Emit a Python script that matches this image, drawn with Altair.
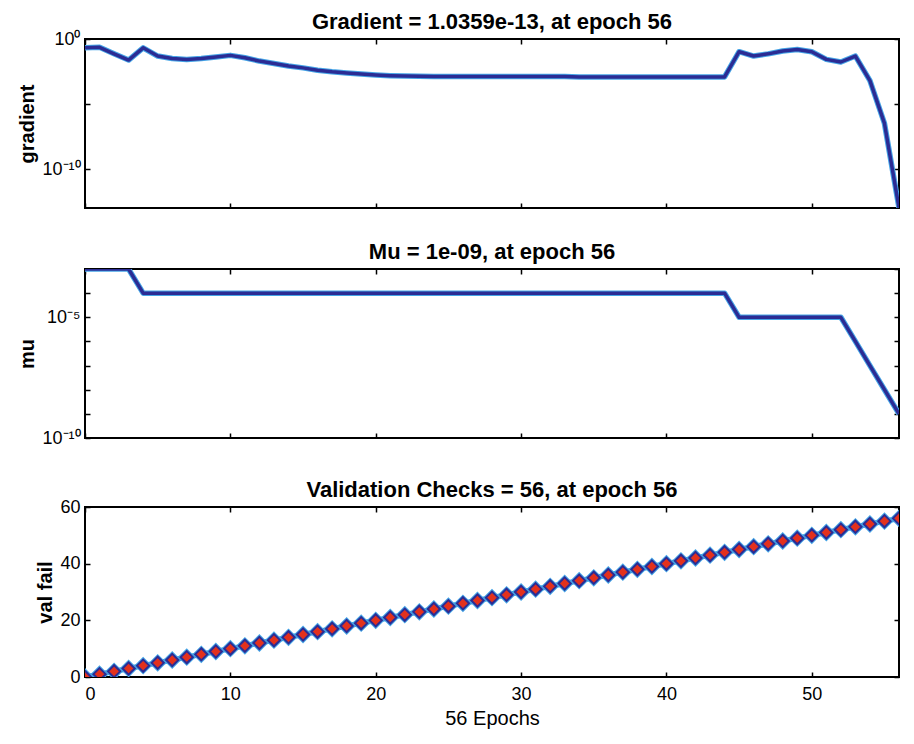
import altair as alt
import pandas as pd

# ---------------- data ----------------
epochs = [0, 1, 2, 3, 4, 5, 6, 7, 8, 9, 10, 11, 12, 13, 14, 15, 16, 17, 18, 19,
          20, 21, 22, 23, 24, 25, 26, 27, 28, 29, 30, 31, 32, 33, 34, 35, 36, 37, 38, 39,
          40, 41, 42, 43, 44, 45, 46, 47, 48, 49, 50, 51, 52, 53, 54, 55, 56]

gradient = [0.21, 0.23, 0.072, 0.024, 0.21, 0.049, 0.032, 0.027, 0.032, 0.041,
            0.055, 0.036, 0.020, 0.013, 0.0085, 0.0060, 0.0040, 0.0030, 0.0024, 0.0020,
            0.0017, 0.0015, 0.0014, 0.00135, 0.0013, 0.0013, 0.0013, 0.0013, 0.0013, 0.0013,
            0.0013, 0.0013, 0.0013, 0.0013, 0.0012, 0.0012, 0.0012, 0.0012, 0.0012, 0.0012,
            0.0012, 0.0012, 0.0012, 0.0012, 0.0012, 0.105, 0.049, 0.072, 0.12, 0.155,
            0.105, 0.027, 0.017, 0.049, 0.00063, 3.2e-7, 1.0359e-13]

mu = [1e-3, 1e-3, 1e-3, 1e-3, 1e-4, 1e-4, 1e-4, 1e-4, 1e-4, 1e-4,
      1e-4, 1e-4, 1e-4, 1e-4, 1e-4, 1e-4, 1e-4, 1e-4, 1e-4, 1e-4,
      1e-4, 1e-4, 1e-4, 1e-4, 1e-4, 1e-4, 1e-4, 1e-4, 1e-4, 1e-4,
      1e-4, 1e-4, 1e-4, 1e-4, 1e-4, 1e-4, 1e-4, 1e-4, 1e-4, 1e-4,
      1e-4, 1e-4, 1e-4, 1e-4, 1e-4, 1e-5, 1e-5, 1e-5, 1e-5, 1e-5,
      1e-5, 1e-5, 1e-5, 1e-6, 1e-7, 1e-8, 1e-9]

val_fail = [0, 1, 2, 3, 4, 5, 6, 7, 8, 9, 10, 11, 12, 13, 14, 15, 16, 17, 18, 19,
            20, 21, 22, 23, 24, 25, 26, 27, 28, 29, 30, 31, 32, 33, 34, 35, 36, 37, 38, 39,
            40, 41, 42, 43, 44, 45, 46, 47, 48, 49, 50, 51, 52, 53, 54, 55, 56]

x_ticks = [0, 10, 20, 30, 40, 50]
grad_ticks = [1e-10, 1e-5, 1]
grad_exps = [-10, -5, 0]
grad_tick_labels = ["10\u207b\u00b9\u2070", "", "10\u2070"]
mu_ticks = [1e-10, 1e-9, 1e-8, 1e-7, 1e-6, 1e-5, 1e-4, 1e-3]
mu_exps = [-10, -9, -8, -7, -6, -5, -4, -3]
mu_tick_labels = ["10\u207b\u00b9\u2070", "", "", "", "", "10\u207b\u2075", "", ""]
val_ticks = [0, 20, 40, 60]

titles = ["Gradient = 1.0359e-13, at epoch 56",
          "Mu = 1e-09, at epoch 56",
          "Validation Checks = 56, at epoch 56"]

df = pd.DataFrame({"epoch": epochs, "gradient": gradient, "mu": mu, "val": val_fail})

# ---------------- style ----------------
FONT = "Liberation Sans"
DARK = "#2b2c94"
LIGHT = "#45a4e6"
RED = "#e3311d"
W, H = 814, 169
TICK = 5

NOEXT = dict(minExtent=0, maxExtent=0)


def log_label_expr(exps, labels):
    expr = "''"
    for e, lab in zip(exps, labels):
        expr = f"(round(log(datum.value)/LN10) == {e} ? '{lab}' : {expr})"
    return expr


xscale = alt.Scale(domain=[0, 56], nice=False, zero=False)


def bottom_axis(show_labels, title=None):
    kw = dict(orient="bottom", values=x_ticks, offset=-TICK, tickSize=TICK, tickWidth=1.5,
              tickColor="black", domain=False, grid=False, labels=show_labels,
              labelFont=FONT, labelFontSize=18, labelColor="black", labelPadding=8,
              titleFont=FONT, titleFontSize=20, titleFontWeight="normal", titleColor="black",
              titlePadding=5, title=title)
    if not show_labels:
        kw.update(NOEXT)
    else:
        kw["minExtent"] = 0
    return alt.Axis(**kw)


top_axis = alt.Axis(orient="top", values=x_ticks, offset=-TICK, tickSize=TICK, tickWidth=1.5,
                    tickColor="black", domain=False, grid=False, labels=False, title=None,
                    **NOEXT)


def left_axis(values, title, label_expr=None):
    kw = dict(orient="left", values=values, offset=-TICK, tickSize=TICK, tickWidth=1.5,
              tickColor="black", domain=False, grid=False, labelFont=FONT, labelFontSize=18,
              labelColor="black", labelPadding=5, labelFlush=False, labelOverlap=False,
              titleFont=FONT, titleFontSize=20, titleFontWeight="bold", titleColor="black",
              titlePadding=4, title=title, minExtent=0)
    if label_expr is not None:
        kw["labelExpr"] = label_expr
    return alt.Axis(**kw)


def right_axis(values):
    return alt.Axis(orient="right", values=values, offset=-TICK, tickSize=TICK, tickWidth=1.5,
                    tickColor="black", domain=False, grid=False, labels=False, title=None,
                    **NOEXT)


def title_layer(text):
    return alt.Chart(pd.DataFrame({"t": [text]})).mark_text(
        font=FONT, fontSize=22, fontWeight="bold", color="black",
        align="center", baseline="alphabetic"
    ).encode(text="t:N", x=alt.value(W / 2), y=alt.value(-10))


def line_panel(field, yscale, laxis, ticks, show_xlabels, xtitle=None):
    halo = alt.Chart(df).mark_line(color=LIGHT, strokeWidth=5.5, strokeJoin="round",
                                   clip=True).encode(
        x=alt.X("epoch:Q", scale=xscale, axis=bottom_axis(show_xlabels, xtitle)),
        y=alt.Y(f"{field}:Q", scale=yscale, axis=laxis),
    )
    core = alt.Chart(df).mark_line(color=DARK, strokeWidth=3.5, strokeJoin="round",
                                   clip=True).encode(
        x=alt.X("epoch:Q", scale=xscale, axis=top_axis),
        y=alt.Y(f"{field}:Q", scale=yscale, axis=right_axis(ticks)),
    )
    return halo, core


# Panel 1: gradient
g_scale = alt.Scale(type="log", domain=[1e-13, 1], nice=False)
g_halo, g_core = line_panel("gradient", g_scale,
                            left_axis(grad_ticks, "gradient", log_label_expr(grad_exps, grad_tick_labels)),
                            grad_ticks, False)
p1 = alt.layer(g_halo, g_core, title_layer(titles[0])).resolve_axis(
    x="independent", y="independent").properties(width=W, height=H)

# Panel 2: mu
m_scale = alt.Scale(type="log", domain=[1e-10, 1e-3], nice=False)
m_halo, m_core = line_panel("mu", m_scale,
                            left_axis(mu_ticks, "mu", log_label_expr(mu_exps, mu_tick_labels)),
                            mu_ticks, False)
p2 = alt.layer(m_halo, m_core, title_layer(titles[1])).resolve_axis(
    x="independent", y="independent").properties(width=W, height=H)

# Panel 3: validation checks
v_scale = alt.Scale(domain=[0, 60], nice=False, zero=True)
v_halo, v_core = line_panel("val", v_scale, left_axis(val_ticks, "val fail"), val_ticks,
                            True, "56 Epochs")
pts_halo = alt.Chart(df).mark_point(shape="diamond", size=150, filled=False,
                                    stroke=LIGHT, strokeWidth=4, opacity=1, clip=True).encode(
    x=alt.X("epoch:Q", scale=xscale, axis=None),
    y=alt.Y("val:Q", scale=v_scale, axis=None),
)
pts = alt.Chart(df).mark_point(shape="diamond", size=150, filled=True, fill=RED,
                               stroke=DARK, strokeWidth=2, opacity=1, fillOpacity=1,
                               clip=True).encode(
    x=alt.X("epoch:Q", scale=xscale, axis=None),
    y=alt.Y("val:Q", scale=v_scale, axis=None),
)
p3 = alt.layer(v_halo, v_core, pts_halo, pts, title_layer(titles[2])).resolve_axis(
    x="independent", y="independent").properties(width=W, height=170)

chart = alt.vconcat(p1, p2, p3, spacing=30).properties(
    padding={"left": 8, "top": 2, "right": 0, "bottom": 0}
).configure(background="white").configure_view(stroke="black", strokeWidth=2)

chart.save("out.html", embed_options={"renderer": "svg", "actions": False})
